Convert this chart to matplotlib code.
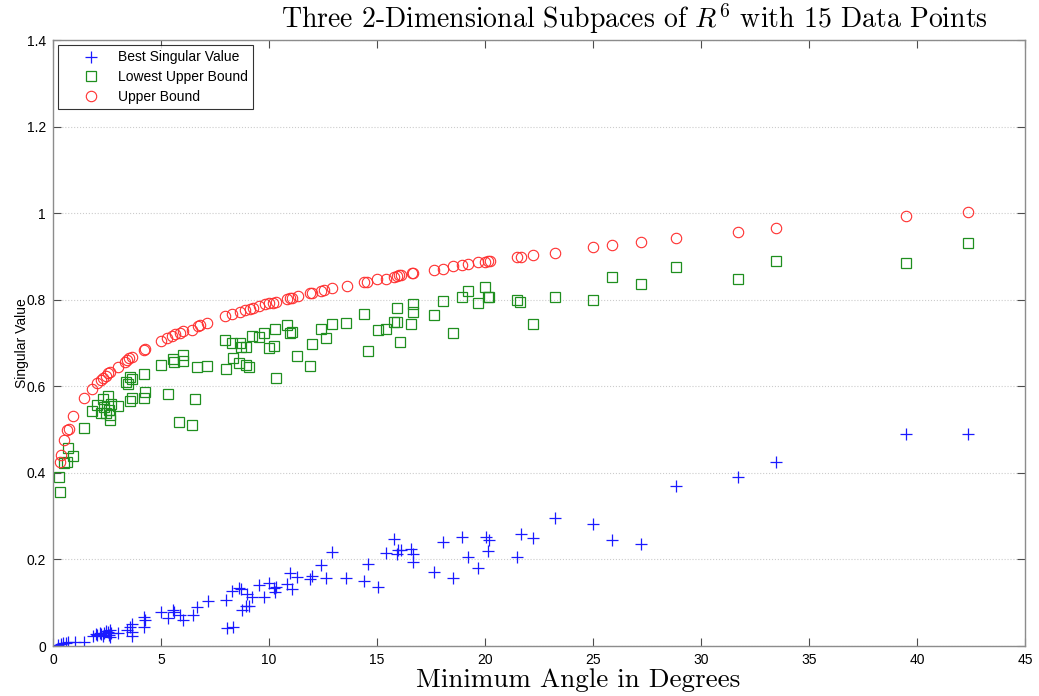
import matplotlib
matplotlib.use("Agg")
import matplotlib.pyplot as plt
from matplotlib.ticker import FormatStrFormatter

plt.rcParams['mathtext.fontset'] = 'cm'
plt.rcParams['axes.unicode_minus'] = False

# Upper Bound (red circles)
ub_x = [0.32, 0.36, 0.51, 0.66, 0.72, 0.94, 1.45, 1.82, 2.02, 2.21,
        2.33, 2.45, 2.56, 2.64, 3.02, 3.33, 3.44, 3.53, 3.64, 4.21,
        4.27, 4.98, 5.29, 5.49, 5.65, 5.88, 6.0, 6.42, 6.7, 6.8,
        7.14, 7.96, 8.27, 8.66, 8.89, 9.12, 9.27, 9.55, 9.81, 10.01,
        10.2, 10.31, 10.85, 10.97, 11.06, 11.36, 11.9, 12.0, 12.4, 12.56,
        12.9, 13.6, 14.41, 14.55, 15.0, 15.42, 15.79, 15.91, 16.02, 16.1,
        16.6, 16.68, 17.64, 18.07, 18.53, 18.95, 19.2, 19.69, 20.0, 20.15,
        20.23, 21.5, 21.65, 22.24, 23.23, 24.99, 25.87, 27.2, 28.83, 31.7,
        33.49, 39.5, 42.38]
ub_y = [0.426, 0.441, 0.476, 0.499, 0.502, 0.531, 0.572, 0.593, 0.607, 0.614,
        0.620, 0.624, 0.630, 0.633, 0.645, 0.657, 0.661, 0.665, 0.668, 0.684,
        0.686, 0.705, 0.711, 0.716, 0.721, 0.724, 0.727, 0.731, 0.739, 0.741,
        0.747, 0.762, 0.767, 0.772, 0.776, 0.778, 0.781, 0.785, 0.790, 0.792,
        0.793, 0.795, 0.801, 0.803, 0.805, 0.809, 0.815, 0.816, 0.820, 0.822,
        0.826, 0.832, 0.840, 0.842, 0.847, 0.849, 0.853, 0.855, 0.857, 0.858,
        0.861, 0.862, 0.869, 0.872, 0.877, 0.880, 0.882, 0.886, 0.887, 0.889,
        0.889, 0.898, 0.899, 0.904, 0.909, 0.921, 0.926, 0.934, 0.943, 0.957,
        0.966, 0.993, 1.003]

# Lowest Upper Bound (green squares)
lub_x = [0.29, 0.32, 0.51, 0.63, 0.69, 0.94, 1.45, 1.79, 2.02, 2.21,
         2.33, 2.38, 2.45, 2.56, 2.59, 2.64, 2.64, 2.69, 3.0, 3.38,
         3.46, 3.56, 3.64, 3.56, 3.66, 4.21, 4.23, 4.27, 5.0, 5.31,
         5.54, 5.6, 6.0, 6.0, 5.85, 6.42, 6.57, 6.65, 7.14, 7.96,
         7.99, 8.27, 8.32, 8.66, 8.69, 8.63, 8.94, 8.94, 9.07, 9.2,
         9.54, 9.78, 10.0, 10.23, 10.28, 10.31, 10.85, 10.97, 11.05, 11.31,
         11.9, 12.0, 12.41, 12.62, 12.93, 13.55, 14.41, 14.57, 15.06, 15.4,
         15.8, 15.91, 15.94, 16.06, 16.57, 16.68, 16.68, 17.64, 18.07, 18.5,
         18.95, 19.2, 19.69, 20.0, 20.15, 20.2, 21.47, 21.62, 22.24, 23.23,
         24.99, 25.87, 27.2, 28.83, 31.7, 33.49, 39.5, 42.38]
lub_y = [0.390, 0.355, 0.422, 0.426, 0.458, 0.439, 0.503, 0.544, 0.557, 0.538,
         0.570, 0.551, 0.538, 0.578, 0.545, 0.534, 0.522, 0.559, 0.554, 0.611,
         0.605, 0.622, 0.616, 0.567, 0.573, 0.628, 0.574, 0.586, 0.650, 0.582,
         0.663, 0.657, 0.672, 0.658, 0.517, 0.511, 0.571, 0.645, 0.647, 0.707,
         0.640, 0.700, 0.666, 0.701, 0.690, 0.654, 0.691, 0.649, 0.645, 0.717,
         0.714, 0.724, 0.689, 0.693, 0.732, 0.620, 0.742, 0.722, 0.725, 0.671,
         0.648, 0.697, 0.732, 0.711, 0.745, 0.747, 0.766, 0.681, 0.730, 0.732,
         0.749, 0.749, 0.782, 0.702, 0.745, 0.790, 0.772, 0.765, 0.798, 0.722,
         0.807, 0.821, 0.792, 0.829, 0.807, 0.807, 0.799, 0.795, 0.744, 0.807,
         0.799, 0.852, 0.836, 0.876, 0.849, 0.890, 0.884, 0.930]

# Best Singular Value (blue pluses)
bsv_x = [0.25, 0.37, 0.48, 0.59, 0.71, 1.02, 1.45, 1.87, 1.97, 2.02,
         2.18, 2.21, 2.33, 2.38, 2.45, 2.56, 2.59, 2.64, 2.64, 2.69,
         3.0, 3.41, 3.56, 3.67, 3.64, 3.67, 4.23, 4.26, 4.23, 5.0,
         5.34, 5.54, 5.6, 5.88, 6.0, 6.5, 6.65, 7.19, 7.99, 8.04,
         8.35, 8.27, 8.63, 8.69, 8.97, 8.73, 8.94, 9.07, 9.23, 9.55,
         9.78, 10.01, 10.23, 10.28, 10.32, 10.85, 10.97, 11.05, 11.31, 11.9,
         12.0, 12.41, 12.62, 12.93, 13.55, 14.41, 14.57, 15.06, 15.4, 15.8,
         15.91, 15.99, 16.11, 16.57, 16.68, 16.68, 17.64, 18.07, 18.53, 18.95,
         19.2, 19.69, 20.03, 20.2, 20.15, 21.47, 21.65, 22.24, 23.23, 24.99,
         25.87, 27.2, 28.83, 31.7, 33.49, 39.5, 42.38]
bsv_y = [0.002, 0.004, 0.006, 0.008, 0.010, 0.010, 0.010, 0.023, 0.027, 0.025,
         0.029, 0.028, 0.022, 0.030, 0.035, 0.033, 0.025, 0.020, 0.038, 0.030,
         0.031, 0.038, 0.045, 0.051, 0.033, 0.023, 0.068, 0.060, 0.045, 0.079,
         0.064, 0.083, 0.078, 0.072, 0.060, 0.072, 0.089, 0.104, 0.106, 0.041,
         0.043, 0.127, 0.133, 0.131, 0.120, 0.083, 0.092, 0.092, 0.114, 0.142,
         0.114, 0.146, 0.133, 0.125, 0.136, 0.143, 0.168, 0.131, 0.159, 0.154,
         0.162, 0.187, 0.158, 0.218, 0.156, 0.151, 0.189, 0.137, 0.214, 0.247,
         0.212, 0.222, 0.222, 0.223, 0.213, 0.193, 0.170, 0.241, 0.158, 0.252,
         0.206, 0.181, 0.252, 0.245, 0.219, 0.205, 0.259, 0.249, 0.296, 0.283,
         0.246, 0.236, 0.370, 0.391, 0.426, 0.490, 0.490]

x_ticks = [0, 5, 10, 15, 20, 25, 30, 35, 40, 45]
y_ticks = [0, 0.2, 0.4, 0.6, 0.8, 1.0, 1.2, 1.4]
labels = ["Best Singular Value", "Lowest Upper Bound", "Upper Bound"]
title = r"Three 2-Dimensional Subpaces of $R^6$ with 15 Data Points"
xlabel = "Minimum Angle in Degrees"
ylabel = "Singular Value"

fig = plt.figure(figsize=(10.39, 6.96), dpi=100)
ax = fig.add_axes([53/1039, 1 - 646/696, (1025-53)/1039, (646-40)/696])

ax.plot(bsv_x, bsv_y, linestyle='none', marker='+', ms=8.5, mew=0.9,
        color='#1a1aff', label=labels[0])
ax.plot(lub_x, lub_y, linestyle='none', marker='s', ms=6.5, mew=0.9,
        mfc='none', color='#1f8f1f', label=labels[1])
ax.plot(ub_x, ub_y, linestyle='none', marker='o', ms=7.5, mew=0.8,
        mfc='none', color='#ff3030', label=labels[2])

ax.set_xlim(0, 45)
ax.set_ylim(0, 1.4)
ax.set_xticks(x_ticks)
ax.set_yticks(y_ticks)
ax.yaxis.set_major_formatter(FormatStrFormatter('%g'))
ax.tick_params(direction='in', length=6, width=0.8, top=True, right=True,
               labelsize=10, color='0.3', pad=5)
for lab in ax.get_xticklabels() + ax.get_yticklabels():
    lab.set_family('Liberation Sans')
for s in ax.spines.values():
    s.set_color('0.55')
    s.set_linewidth(1.0)
ax.yaxis.grid(True, linestyle=':', color='0.8', linewidth=0.8)
ax.set_axisbelow(True)

ax.set_ylabel(ylabel, fontsize=10, family='Liberation Sans')
ax.yaxis.set_label_coords((29 - 53) / 972, 0.5)

fig.text(634/1039, 1 - 19/696, title, ha='center', va='center',
         fontsize=20, family='cmr10')
fig.text(578/1039, 1 - 687/696, xlabel, ha='center', va='baseline',
         fontsize=19.5, family='cmr10')

leg = ax.legend(loc='upper left', frameon=True, fancybox=False,
                edgecolor='black', borderaxespad=0.35, handlelength=3.9,
                handletextpad=0.0, labelspacing=0.4, borderpad=0.4,
                prop={'family': 'Liberation Sans', 'size': 10})
leg.get_frame().set_linewidth(0.8)

fig.savefig("out.png", dpi=100)
